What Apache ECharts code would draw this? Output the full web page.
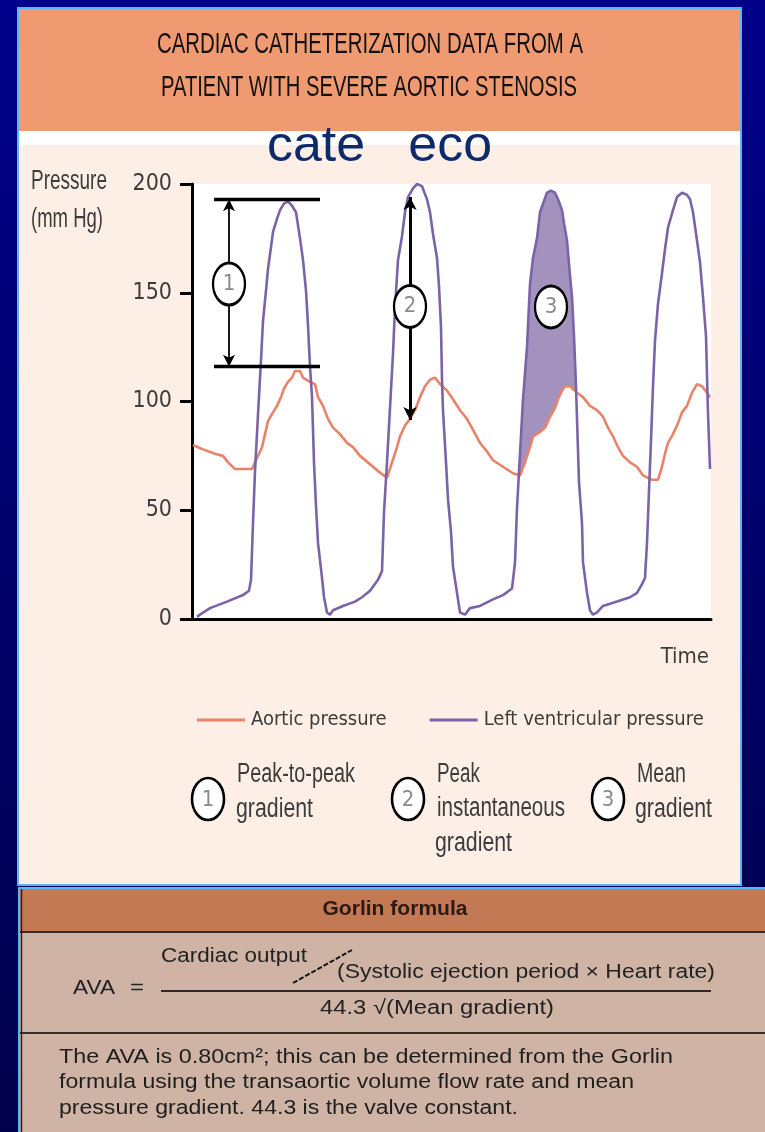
<!DOCTYPE html>
<html>
<head>
<meta charset="utf-8">
<script src="https://cdn.jsdelivr.net/npm/echarts@6/dist/echarts.min.js"></script>
<style>
html, body { margin: 0; padding: 0; background: #000070; }
#main { width: 765px; height: 1132px; }
</style>
</head>
<body>
<div id="main"></div>
<script>
// time in arbitrary units (0 = left edge of the plot), pressure in mm Hg
var lvTime = [5,8,18,35,51,57,59,61,63,66, 69,71,74,76,79,81,85,88,92,96,
	100,104,108,111,114,116,118,120,122,124, 126,130,132,135,138,141,151,163,170,178,
	186,190,192,195,198,201,203,206,210,213, 216,221,225,230,235,238,241,245,247,249,
	250,251,254,256,259,261,265,268,273,278, 288,301,311,320,323,325,328,331,335,338,
	341,345,348,351,355,359,363,366,370,372, 375,377,380,382,384,385,387,390,391,395,
	398,401,405,411,425,438,445,450,453,455, 457,459,461,463,466,470,473,476,481,485,
	490,495,498,501,505,508,511,514,516,518];
var lvPressure = [1,2,5,8,11,13,18,44,68,94, 119,137,151,161,171,178,184,188,191,192,
	190,187,175,165,151,135,116,102,72,52, 35,19,10,3,2,4,6,8,10,13,
	18,22,49,72,97,122,143,165,176,187, 194,198,200,199,193,187,177,166,153,134,
	110,96,72,55,40,24,12,3,2,5, 6,9,11,14,26,51,76,101,125,154,
	166,175,187,191,196,197,196,193,188,182, 174,163,148,130,107,92,63,44,26,12,
	4,2,3,6,8,10,12,16,19,35, 59,82,107,128,145,159,170,180,188,194,
	196,195,193,187,174,164,148,130,95,69];

var aoTime = [1,11,23,31,36,43,60,65,70,73, 76,81,85,89,92,96,100,103,108,111,
	118,123,126,131,136,141,148,155,161,168, 176,186,195,200,205,208,213,218,223,228,
	233,238,243,248,255,261,268,275,281,288, 295,301,311,321,328,333,338,341,348,353,
	358,363,366,370,373,378,385,391,398,405, 411,416,421,426,431,438,445,451,460,466,
	470,473,476,481,486,490,495,500,505,510, 515,518];
var aoPressure = [80,78,76,75,72,69,69,74,79,85, 91,95,98,102,106,109,111,114,114,111,
	109,108,102,98,92,88,85,81,79,75, 72,68,65,72,79,84,89,92,96,102,
	107,110,111,108,105,101,96,92,87,81, 77,73,70,67,66,72,79,84,86,88,
	93,97,101,105,107,107,104,102,98,96, 93,88,84,79,75,72,70,66,64,64,
	70,76,81,85,90,95,98,104,108,107, 104,102];

// where LV pressure is above aortic pressure in the third beat (shaded = mean gradient)
var meanGradientWindow = [326.8, 384.2];

// numbered markers: 1 peak-to-peak, 2 peak instantaneous, 3 mean gradient
var markerTime = [37, 218, 359];
var markerPressure = [154, 143.7, 143.5];
var markerLabel = ['1', '2', '3'];

// gradient brackets
var peakToPeak = {time: [22, 128], arrowTime: 37, top: 193, bottom: 116};
var peakInstant = {time: 218, top: 194, bottom: 91.5};

var yTicks = {min: 0, max: 200, step: 50};
var seriesNames = ['Aortic pressure', 'Left ventricular pressure'];

window.onload = function () {
	var narrow = '"Liberation Sans Narrow", "DejaVu Sans Condensed", sans-serif';
	var myChart = echarts.init(document.getElementById('main'), null, {renderer: 'canvas'});

	var toPairs = function (ts, ps) {
		var res = [];
		for (var i = 0; i < ts.length; i++) res.push([ts[i], ps[i]]);
		return res;
	};

	// linear value of a curve at time t (used only for the edges of the shaded polygon)
	var valueAt = function (ts, ps, t) {
		for (var i = 0; i < ts.length - 1; i++) {
			if (t >= ts[i] && t <= ts[i + 1]) {
				return ps[i] + (ps[i + 1] - ps[i]) * (t - ts[i]) / (ts[i + 1] - ts[i]);
			}
		}
		return ps[ps.length - 1];
	};

	// texts are squeezed horizontally to the condensed look of the original
	var ctx = document.createElement('canvas').getContext('2d');
	var txt = function (str, x, y, size, width, opt) {
		opt = opt || {};
		var weight = opt.weight || 'normal';
		var family = opt.family || '"Liberation Sans", Arial, sans-serif';
		ctx.font = weight + ' ' + size + 'px ' + family;
		var w = ctx.measureText(str).width;
		return {
			type: 'text', x: x, y: y, z: 20,
			scaleX: width ? width / w : 1,
			style: {
				text: str, fontSize: size, fontFamily: family, fontWeight: weight,
				fill: opt.color || '#3c3c3c',
				textAlign: opt.align || 'left', align: opt.align || 'left',
				textVerticalAlign: 'middle', verticalAlign: 'middle'
			}
		};
	};
	var ellipse = function (cx, cy, n) {
		return [
			{type: 'ellipse', z: 20, shape: {cx: cx, cy: cy, rx: 16, ry: 21},
				style: {fill: '#fff', stroke: '#000', lineWidth: 2.6}},
			txt(n, cx, cy + 1, 22, 0, {align: 'center', color: '#8a8a8a', family: narrow})
		];
	};

	var graphics = [
		// top panel
		{type: 'rect', z: -5, shape: {x: 18, y: 8, width: 723, height: 877},
			style: {fill: '#fdeee6', stroke: '#5ab6f0', lineWidth: 2}},
		{type: 'rect', z: -4, shape: {x: 19, y: 9, width: 721, height: 122}, style: {fill: '#f09a72'}},
		{type: 'rect', z: -4, shape: {x: 19, y: 131, width: 721, height: 14}, style: {fill: '#ffffff'}},
		// bottom panel
		{type: 'rect', z: -5, shape: {x: 19, y: 888, width: 760, height: 250},
			style: {fill: '#cfb4a5', stroke: '#5ab6f0', lineWidth: 2}},
		{type: 'rect', z: -4, shape: {x: 20, y: 889, width: 750, height: 43}, style: {fill: '#c47955'}},
		{type: 'line', z: -3, shape: {x1: 20, y1: 932, x2: 765, y2: 932}, style: {stroke: '#3b2b22', lineWidth: 2}},
		{type: 'line', z: -3, shape: {x1: 20, y1: 1033, x2: 765, y2: 1033}, style: {stroke: '#3b2b22', lineWidth: 2}},
		{type: 'line', z: -3, shape: {x1: 21.5, y1: 889, x2: 21.5, y2: 1132}, style: {stroke: '#2a2020', lineWidth: 1.5}},

		txt('CARDIAC CATHETERIZATION DATA FROM A', 370, 45, 30, 426, {align: 'center', color: '#111'}),
		txt('PATIENT WITH SEVERE AORTIC STENOSIS', 369, 88, 30, 416, {align: 'center', color: '#111'}),
		txt('cate   eco', 267, 147, 50, 225, {color: '#0d2b6b'}),
		txt('Pressure', 31, 182, 27, 76),
		txt('(mm Hg)', 31, 220, 27, 72),

		txt('Peak-to-peak', 237, 775, 27, 118),
		txt('gradient', 236, 810, 27, 77),
		txt('Peak', 437, 775, 27, 43),
		txt('instantaneous', 437, 809, 27, 128),
		txt('gradient', 435, 844, 27, 77),
		txt('Mean', 637, 775, 27, 49),
		txt('gradient', 635, 810, 27, 77),

		txt('Gorlin formula', 395, 909, 21, 145, {align: 'center', weight: 'bold', color: '#2a1a12'}),
		txt('AVA', 73, 988, 20, 42, {color: '#222'}),
		txt('=', 137, 988, 20, 14, {align: 'center', color: '#222'}),
		txt('Cardiac output', 161, 956, 20, 146, {color: '#222'}),
		{type: 'line', z: 20, shape: {x1: 293, y1: 983, x2: 352, y2: 950},
			style: {stroke: '#111', lineWidth: 2, lineDash: [5, 2]}},
		txt('(Systolic ejection period \u00d7 Heart rate)', 337, 972, 20, 378, {color: '#222'}),
		{type: 'line', z: 20, shape: {x1: 161, y1: 991, x2: 711, y2: 991}, style: {stroke: '#2a2a2a', lineWidth: 2}},
		txt('44.3 \u221a(Mean gradient)', 320, 1008, 20, 234, {color: '#222'}),
		txt('The AVA is 0.80cm\u00b2; this can be determined from the Gorlin', 59, 1057, 20, 614, {color: '#1e1e1e'}),
		txt('formula using the transaortic volume flow rate and mean', 59, 1082, 20, 575, {color: '#1e1e1e'}),
		txt('pressure gradient. 44.3 is the valve constant.', 59, 1108, 20, 459, {color: '#1e1e1e'})
	];
	graphics = graphics.concat(ellipse(208, 799, '1'), ellipse(408, 799, '2'), ellipse(608, 799, '3'));

	var markerData = [];
	for (var i = 0; i < markerTime.length; i++) {
		markerData.push([markerTime[i], markerPressure[i], markerLabel[i]]);
	}

	var option = {
		animation: false,
		backgroundColor: {
			type: 'linear', x: 0, y: 0, x2: 0, y2: 1,
			colorStops: [{offset: 0, color: '#00008a'}, {offset: 1, color: '#00004a'}]
		},
		graphic: graphics,
		grid: {
			left: 192, right: 54, top: 184, bottom: 513,
			show: true, backgroundColor: '#ffffff', borderWidth: 0
		},
		legend: {
			left: 192, top: 705, width: 560,
			icon: 'rect', itemWidth: 48, itemHeight: 3, itemGap: 43,
			selectedMode: false,
			textStyle: {fontSize: 20, fontFamily: narrow, color: '#3c3c3c', padding: [0, 0, 0, 1]},
			data: seriesNames
		},
		xAxis: {
			type: 'value', min: 0, max: 519,
			name: 'Time', nameLocation: 'end', nameGap: 0,
			nameTextStyle: {fontSize: 22, fontFamily: narrow, color: '#3c3c3c',
				align: 'right', verticalAlign: 'top', padding: [27, 2, 0, 0]},
			axisLine: {show: true, lineStyle: {color: '#000', width: 3}},
			axisTick: {show: false},
			axisLabel: {show: false},
			splitLine: {show: false}
		},
		yAxis: {
			type: 'value', min: yTicks.min, max: yTicks.max, interval: yTicks.step,
			axisLine: {show: true, lineStyle: {color: '#000', width: 3}},
			axisTick: {show: true, length: 12, lineStyle: {color: '#000', width: 3}},
			axisLabel: {margin: 20, fontSize: 23, fontFamily: narrow, color: '#3c3c3c'},
			splitLine: {show: false}
		},
		series: [
			{
				// shaded area between the curves = mean gradient
				type: 'custom',
				coordinateSystem: 'cartesian2d',
				z: 1,
				silent: true,
				encode: {x: [0, 1]},
				data: [meanGradientWindow],
				renderItem: function (params, api) {
					var t0 = api.value(0), t1 = api.value(1);
					var pts = [api.coord([t0, valueAt(lvTime, lvPressure, t0)])];
					for (var i = 0; i < lvTime.length; i++) {
						if (lvTime[i] > t0 && lvTime[i] < t1) pts.push(api.coord([lvTime[i], lvPressure[i]]));
					}
					pts.push(api.coord([t1, valueAt(lvTime, lvPressure, t1)]));
					pts.push(api.coord([t1, valueAt(aoTime, aoPressure, t1)]));
					for (var j = aoTime.length - 1; j >= 0; j--) {
						if (aoTime[j] > t0 && aoTime[j] < t1) pts.push(api.coord([aoTime[j], aoPressure[j]]));
					}
					pts.push(api.coord([t0, valueAt(aoTime, aoPressure, t0)]));
					return {type: 'polygon', shape: {points: pts}, style: {fill: '#a392be'}};
				}
			},
			{
				name: seriesNames[0],
				type: 'line',
				z: 3,
				data: toPairs(aoTime, aoPressure),
				showSymbol: false,
				color: '#e8836a',
				lineStyle: {color: '#e8836a', width: 2.6}
			},
			{
				name: seriesNames[1],
				type: 'line',
				z: 3,
				data: toPairs(lvTime, lvPressure),
				showSymbol: false,
				color: '#7b63a7',
				lineStyle: {color: '#7b63a7', width: 2.6}
			},
			{
				// numbered markers and gradient arrows
				type: 'scatter',
				z: 6,
				silent: true,
				data: markerData,
				symbol: 'path://M16,0 C24.84,0 32,9.4 32,21 C32,32.6 24.84,42 16,42 C7.16,42 0,32.6 0,21 C0,9.4 7.16,0 16,0 Z',
				symbolSize: [32, 42],
				itemStyle: {color: '#fff', borderColor: '#000', borderWidth: 2.6, opacity: 1},
				label: {
					show: true, position: 'inside',
					formatter: function (p) { return p.value[2]; },
					fontSize: 22, fontFamily: narrow, color: '#8a8a8a'
				},
				markLine: {
					silent: true,
					animation: false,
					label: {show: false},
					lineStyle: {color: '#000', type: 'solid'},
					data: [
						[{coord: [peakToPeak.time[0], peakToPeak.top], symbol: 'none', lineStyle: {width: 3.3}},
							{coord: [peakToPeak.time[1], peakToPeak.top], symbol: 'none'}],
						[{coord: [peakToPeak.time[0], peakToPeak.bottom], symbol: 'none', lineStyle: {width: 3.3}},
							{coord: [peakToPeak.time[1], peakToPeak.bottom], symbol: 'none'}],
						[{coord: [peakToPeak.arrowTime, peakToPeak.top], symbol: 'arrow', symbolSize: [9, 12], lineStyle: {width: 1.8}},
							{coord: [peakToPeak.arrowTime, peakToPeak.bottom], symbol: 'arrow', symbolSize: [9, 12]}],
						[{coord: [peakInstant.time, peakInstant.top], symbol: 'arrow', symbolSize: [10, 13], lineStyle: {width: 3}},
							{coord: [peakInstant.time, peakInstant.bottom], symbol: 'arrow', symbolSize: [10, 13]}]
					]
				}
			}
		]
	};
	myChart.setOption(option);
};
</script>
</body>
</html>
